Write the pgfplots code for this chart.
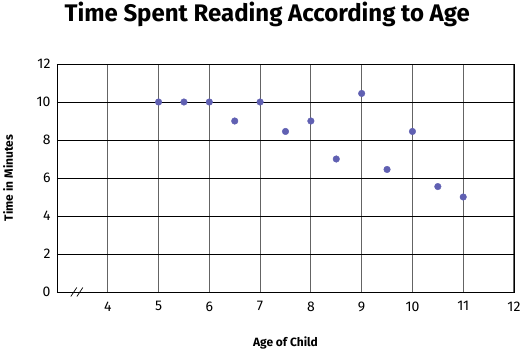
\documentclass[border=0pt]{standalone}
\usepackage{fontspec}
\setmainfont{Fira Sans}
\usepackage{pgfplots}
\pgfplotsset{compat=1.18}
\definecolor{dotc}{RGB}{96,96,178}
\definecolor{vgrid}{RGB}{100,100,100}
\begin{document}
\begin{tikzpicture}
\useasboundingbox (-57pt,-59pt) rectangle (463pt,292pt);
\begin{axis}[
  anchor=south west, at={(0,0)},
  scale only axis, width=457pt, height=228pt,
  xmin=3, xmax=12, ymin=0, ymax=12,
  xtick={4,5,...,12}, ytick={0,2,...,12},
  major tick length=0pt,
  xmajorgrids=true, ymajorgrids=true,
  grid style={draw=black, line width=0.8pt},
  major x grid style={draw=vgrid, line width=1.1pt},
  axis line style={draw=black, line width=0.8pt},
  tick label style={font=\fontsize{14}{14}\selectfont},
  /pgf/number format/assume math mode=true,
  xticklabel style={yshift=-6pt},
  yticklabel style={xshift=-3pt},
  xlabel={\textbf{Age of Child}},
  ylabel={\textbf{Time in Minutes}},
  label style={font=\fontsize{12}{12}\selectfont},
  xlabel style={at={(axis description cs:0.5,0)}, anchor=center, yshift=-51pt},
  ylabel style={at={(axis description cs:0,0.5)}, anchor=center, rotate=0, yshift=49pt},
  title={\textbf{Time Spent Reading According to Age}},
  title style={font=\fontsize{24}{24}\selectfont, at={(axis description cs:0.46,1)}, anchor=center, yshift=44pt},
  clip=false,
]
\addplot[only marks, mark=*, mark size=3.3pt, mark options={fill=dotc, draw=dotc}] coordinates {
  (5,10) (5.5,10) (6,10) (6.5,9) (7,10) (7.5,8.45) (8,9) (8.5,7)
  (9,10.45) (9.5,6.45) (10,8.45) (10.5,5.55) (11,5)
};
\draw[black, line width=0.7pt] (axis cs:3.33,0) ++(-3pt,-4.5pt) -- ++(6pt,9pt);
\draw[black, line width=0.7pt] (axis cs:3.45,0) ++(-3pt,-4.5pt) -- ++(6pt,9pt);
\end{axis}
\end{tikzpicture}
\end{document}
